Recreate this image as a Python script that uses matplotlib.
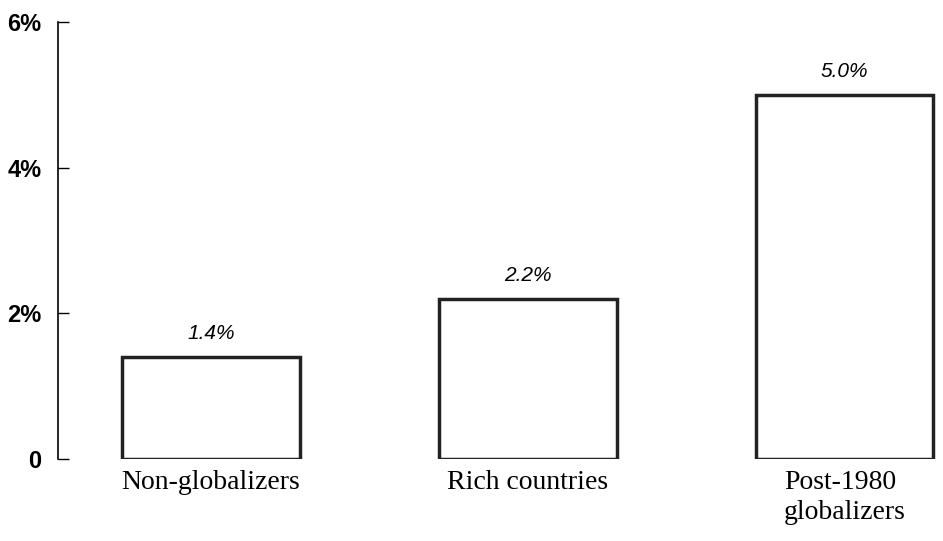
import matplotlib.pyplot as plt

categories = ["Non-globalizers", "Rich countries", "Post-1980\nglobalizers"]
growth = [1.4, 2.2, 5.0]
value_labels = ["1.4%", "2.2%", "5.0%"]
yticks = [0, 2, 4, 6]
ytick_labels = ["0", "2%", "4%", "6%"]

fig = plt.figure(figsize=(9.43, 5.41), dpi=100)
ax = fig.add_axes([0.0615, 0.1516, 0.9385, 0.8077])

x = range(len(categories))
ax.bar(x, growth, width=0.56, color="white", edgecolor="#222222", linewidth=2.5)

for i, v in enumerate(growth):
    ax.annotate(value_labels[i], (i, v), xytext=(0, 10), textcoords="offset points",
                ha="center", va="bottom", fontsize=15, style="italic",
                family="Liberation Sans")

# category names drawn as text so the two-line one can be left aligned
for i, name in enumerate(categories):
    ax.annotate(name, (i, 0), xytext=(0, -8), textcoords="offset points",
                ha="center", va="top", ma="left", fontsize=20,
                family="Liberation Serif", linespacing=1.25, annotation_clip=False)

ax.set_xlim(-0.483, 2.31)
ax.set_ylim(0, 6)
ax.set_yticks(yticks)
ax.set_yticklabels(ytick_labels, fontsize=17, fontweight="bold", family="Liberation Sans")
ax.tick_params(axis="y", direction="in", length=8, pad=12, width=1)
ax.set_xticks([])

for s in ["top", "right", "bottom"]:
    ax.spines[s].set_visible(False)
ax.spines["left"].set_linewidth(1.2)

plt.savefig("out.png", dpi=100)
